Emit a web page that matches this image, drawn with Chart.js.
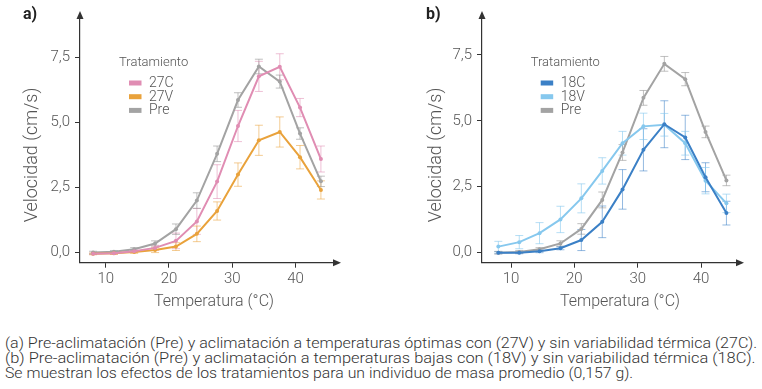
<!DOCTYPE html>
<html>
<head>
<meta charset="utf-8">
<script src="https://cdn.jsdelivr.net/npm/chart.js@4.4.0/dist/chart.umd.min.js"></script>
<style>
  body { margin: 0; background: #fff; }
  #wrap { position: relative; width: 762px; height: 389px; overflow: hidden; background: #fff; }
  canvas { position: absolute; top: 0; }
  #chartA { left: 0; }
  #chartB { left: 381px; }
  .cap { position: absolute; left: 5px; white-space: nowrap; font-family: Roboto, 'Liberation Sans', sans-serif;
         font-weight: 300; font-size: 15.5px; line-height: 15px; color: #333; transform-origin: 0 50%; }
</style>
</head>
<body>
<div id="wrap">
  <canvas id="chartA" width="381" height="320"></canvas>
  <canvas id="chartB" width="381" height="320"></canvas>
  <div class="cap" id="cap1" style="top:336px">(a) Pre-aclimatación (Pre) y aclimatación a temperaturas óptimas con (27V) y sin variabilidad térmica (27C).</div>
  <div class="cap" id="cap2" style="top:351px">(b) Pre-aclimatación (Pre) y aclimatación a temperaturas bajas con (18V) y sin variabilidad térmica (18C).</div>
  <div class="cap" id="cap3" style="top:366px">Se muestran los efectos de los tratamientos para un individuo de masa promedio (0,157 g).</div>
</div>
<script>
// temperatura (°C)
var temps = [8, 11.3, 14.5, 17.8, 21.1, 24.4, 27.6, 30.9, 34.2, 37.5, 40.7, 44];

// velocidad (cm/s) y error
var pre    = [0.0, 0.03, 0.13, 0.35, 0.9, 2.0, 3.8, 5.87, 7.16, 6.58, 4.58, 2.74];
var preErr = [0.05, 0.05, 0.06, 0.1, 0.2, 0.3, 0.3, 0.28, 0.28, 0.25, 0.22, 0.2];
var c27    = [-0.05, -0.03, 0.05, 0.18, 0.45, 1.2, 2.73, 4.87, 6.78, 7.15, 5.58, 3.6];
var c27Err = [0.03, 0.04, 0.05, 0.1, 0.3, 0.5, 0.65, 0.6, 0.58, 0.5, 0.35, 0.5];
var v27    = [-0.05, -0.03, 0.02, 0.1, 0.23, 0.72, 1.6, 3.0, 4.32, 4.64, 3.67, 2.41];
var v27Err = [0.03, 0.04, 0.05, 0.1, 0.15, 0.3, 0.35, 0.45, 0.58, 0.58, 0.45, 0.35];
var c18    = [0.0, 0.0, 0.05, 0.17, 0.48, 1.17, 2.4, 3.9, 4.87, 4.37, 2.86, 1.5];
var c18Err = [0.04, 0.04, 0.05, 0.06, 0.4, 0.6, 0.75, 0.8, 0.89, 0.84, 0.55, 0.45];
var v18    = [0.23, 0.4, 0.74, 1.26, 2.06, 3.1, 4.15, 4.79, 4.85, 4.15, 2.73, 1.87];
var v18Err = [0.2, 0.25, 0.4, 0.5, 0.55, 0.5, 0.45, 0.5, 0.43, 0.45, 0.5, 0.35];

var xTicks = [10, 20, 30, 40];
var yTicks = [0, 2.5, 5, 7.5];
var yTickLabels = ['0,0', '2,5', '5,0', '7,5'];

var FONT = 'Roboto, "Liberation Sans", sans-serif';

function pts(ys) {
  return temps.map(function (t, i) { return { x: t, y: ys[i] }; });
}

function serie(label, ys, errs, color, errColor) {
  return {
    label: label,
    data: pts(ys),
    errors: errs,
    errColor: errColor,
    borderColor: color,
    backgroundColor: color,
    borderWidth: 2,
    pointRadius: 2,
    pointBorderWidth: 0,
    tension: 0
  };
}

// barras de error
var errorBars = {
  id: 'errorBars',
  beforeDatasetsDraw: function (chart) {
    var ctx = chart.ctx, xs = chart.scales.x, ys = chart.scales.y;
    chart.data.datasets.forEach(function (ds) {
      if (!ds.errors) return;
      ctx.save();
      ctx.strokeStyle = ds.errColor;
      ctx.lineWidth = 1;
      ds.data.forEach(function (p, i) {
        var e = ds.errors[i];
        var px = xs.getPixelForValue(p.x);
        var y1 = ys.getPixelForValue(p.y - e);
        var y2 = ys.getPixelForValue(p.y + e);
        ctx.beginPath();
        ctx.moveTo(px, y1); ctx.lineTo(px, y2);
        ctx.moveTo(px - 4, y1); ctx.lineTo(px + 4, y1);
        ctx.moveTo(px - 4, y2); ctx.lineTo(px + 4, y2);
        ctx.stroke();
      });
      ctx.restore();
    });
  }
};

// flechas, títulos de ejes, leyenda y letra del panel
var decor = {
  id: 'decor',
  afterDraw: function (chart, args, opts) {
    var ctx = chart.ctx, a = chart.chartArea;
    ctx.save();
    ctx.fillStyle = '#333';
    ctx.beginPath();
    ctx.moveTo(a.left, a.top - 3);
    ctx.lineTo(a.left - 3.5, a.top + 5);
    ctx.lineTo(a.left + 3.5, a.top + 5);
    ctx.fill();
    ctx.beginPath();
    ctx.moveTo(a.right + 3, a.bottom);
    ctx.lineTo(a.right - 5, a.bottom - 3.5);
    ctx.lineTo(a.right - 5, a.bottom + 3.5);
    ctx.fill();

    ctx.fillStyle = '#222';
    ctx.font = 'bold 16px ' + FONT;
    ctx.textBaseline = 'middle';
    ctx.textAlign = 'left';
    ctx.fillText(opts.panel, opts.panelX, 15);

    ctx.fillStyle = '#555';
    ctx.font = '300 16px ' + FONT;
    ctx.textAlign = 'center';
    ctx.fillText('Temperatura (°C)', opts.xTitleX, 302);
    ctx.save();
    ctx.font = '300 18px ' + FONT;
    ctx.translate(opts.yTitleX, opts.yTitleY);
    ctx.rotate(-Math.PI / 2);
    ctx.fillText('Velocidad (cm/s)', 0, 0);
    ctx.restore();

    var lx = a.left + opts.legendDX;
    ctx.textAlign = 'left';
    ctx.font = '300 13px ' + FONT;
    ctx.fillStyle = '#555';
    ctx.fillText('Tratamiento', lx, 62.5);
    ctx.font = '300 14px ' + FONT;
    chart.data.datasets.forEach(function (ds, i) {
      var y = 83 + i * 13.7;
      ctx.fillStyle = ds.borderColor;
      ctx.fillRect(lx + 10, y - 2.5, 12.5, 5);
      ctx.fillStyle = '#555';
      ctx.fillText(ds.label, lx + 30, y + 0.5);
    });
    ctx.restore();
  }
};

function makeChart(id, datasets, lim, deco) {
  return new Chart(document.getElementById(id), {
    type: 'line',
    data: { datasets: datasets },
    plugins: [errorBars, decor],
    options: {
      responsive: false,
      animation: false,
      layout: { padding: { top: 10, right: lim.padRight, left: 0, bottom: 0 } },
      plugins: {
        legend: { display: false },
        tooltip: { enabled: false },
        decor: deco
      },
      scales: {
        x: {
          type: 'linear',
          min: lim.xmin, max: lim.xmax,
          afterBuildTicks: function (s) { s.ticks = xTicks.map(function (v) { return { value: v }; }); },
          afterFit: function (s) { s.height = 57.3; },
          grid: { drawOnChartArea: false, drawTicks: true, tickLength: 5, tickColor: '#333' },
          border: { display: true, color: '#333', width: 1.2 },
          ticks: { color: '#555', padding: 3, font: { family: FONT, size: 15, weight: 300 }, maxRotation: 0 }
        },
        y: {
          min: lim.ymin, max: lim.ymax,
          afterBuildTicks: function (s) { s.ticks = yTicks.map(function (v) { return { value: v }; }); },
          afterFit: function (s) { s.width = lim.yWidth; },
          grid: { drawOnChartArea: false, drawTicks: true, tickLength: 5, tickColor: '#333' },
          border: { display: true, color: '#333', width: 1.2 },
          ticks: {
            color: '#555', padding: 5, font: { family: FONT, size: 15, weight: 300 },
            callback: function (v) { var i = yTicks.indexOf(v); return i >= 0 ? yTickLabels[i] : ''; }
          }
        }
      }
    }
  });
}

makeChart('chartA', [
  serie('27C', c27, c27Err, '#e08db3', 'rgba(224,141,179,0.55)'),
  serie('27V', v27, v27Err, '#e9a23b', 'rgba(233,162,59,0.55)'),
  serie('Pre', pre, preErr, '#a3a3a3', 'rgba(150,150,150,0.6)')
], { xmin: 5.94, xmax: 46.7, ymin: -0.39, ymax: 9.18, padRight: 43, yWidth: 80 },
   { panel: 'a)', panelX: 23, xTitleX: 214, yTitleX: 32, yTitleY: 155, legendDX: 39 });

makeChart('chartB', [
  serie('18C', c18, c18Err, '#3b80c6', 'rgba(59,128,198,0.55)'),
  serie('18V', v18, v18Err, '#86c8ee', 'rgba(134,200,238,0.6)'),
  serie('Pre', pre, preErr, '#a3a3a3', 'rgba(150,150,150,0.6)')
], { xmin: 5.42, xmax: 46.3, ymin: -0.38, ymax: 9.05, padRight: 21, yWidth: 101 },
   { panel: 'b)', panelX: 45, xTitleX: 239, yTitleX: 55, yTitleY: 155, legendDX: 48.7 });

// ajustar el ancho de las líneas del pie
[['cap1', 752], ['cap2', 750], ['cap3', 628]].forEach(function (c) {
  var el = document.getElementById(c[0]);
  var w = el.scrollWidth;
  el.style.transform = 'scaleX(' + (c[1] / w) + ')';
});
</script>
</body>
</html>
